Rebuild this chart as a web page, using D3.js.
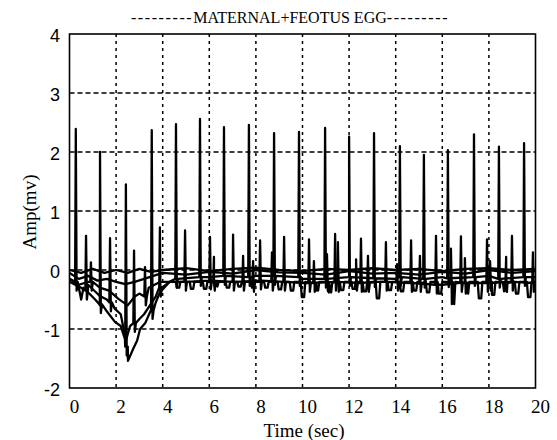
<!DOCTYPE html>
<html>
<head>
<meta charset="utf-8">
<script src="https://cdn.jsdelivr.net/npm/d3@7"></script>
<style>
  body { margin: 0; background: #fff; }
</style>
</head>
<body>
<svg id="chart" width="557" height="440"></svg>
<script>
// axis ticks
const xTicks = [0, 2, 4, 6, 8, 10, 12, 14, 16, 18, 20];
const yTicks = [-2, -1, 0, 1, 2, 3, 4];

// maternal R peaks: time (s), peak (mV), foot (mV)
const mTimes = [0.27, 1.31, 2.42, 3.53, 4.57, 5.60, 6.63, 7.70, 8.78, 9.85, 10.97, 12.0, 13.07, 14.18, 15.21, 16.24, 17.36, 18.43, 19.51];
const mPeak = [2.39, 2.0, 1.45, 2.37, 2.47, 2.56, 2.42, 2.46, 2.32, 2.34, 2.41, 2.26, 2.32, 2.1, 1.95, 2.03, 2.3, 2.09, 2.15];
const mFoot = [-0.2, -0.58, -1.3, -0.68, -0.15, -0.12, -0.1, -0.12, -0.1, -0.12, -0.15, -0.12, -0.14, -0.12, -0.15, -0.14, -0.12, -0.15, -0.12];

// foetal peaks
const fTimes = [0.71, 1.74, 2.77, 3.88, 4.96, 6.03, 7.02, 8.18, 9.21, 10.28, 11.4, 12.51, 13.58, 14.66, 15.73, 16.8, 17.92, 18.99, 19.89];
const fPeak = [0.58, 0.54, 0.33, 0.72, 0.67, 0.56, 0.6, 0.5, 0.56, 0.52, 0.61, 0.53, 0.47, 0.5, 0.58, 0.57, 0.52, 0.58, 0.3];
const fFoot = [-0.35, -0.55, -0.9, -0.3, -0.2, -0.18, -0.2, -0.18, -0.2, -0.22, -0.2, -0.22, -0.2, -0.22, -0.25, -0.22, -0.22, -0.2, -0.22];

// smaller secondary spikes
const sTimes = [0.92, 3.24, 6.2, 7.45, 7.88, 8.69, 10.49, 11.05, 11.52, 12.3, 12.81, 14.06, 15.04, 16.37, 16.97, 18.05, 18.74];
const sPeak = [0.13, 0.05, 0.22, 0.24, 0.15, 0.3, 0.15, 0.27, 0.47, 0.18, 0.24, 0.1, 0.24, 0.36, 0.2, 0.15, 0.22];
const sFoot = [-0.2, -0.45, -0.2, -0.2, -0.22, -0.2, -0.22, -0.2, -0.22, -0.2, -0.22, -0.2, -0.22, -0.2, -0.22, -0.2, -0.22];

// U shaped dips in the lower band
const dTimes = [4.66, 5.26, 5.82, 6.3, 6.8, 7.3, 7.88, 8.45, 9.03, 9.55, 10.02, 10.62, 11.18, 11.7, 12.2, 12.68, 13.24, 13.75, 14.27, 14.83, 15.39, 15.9, 16.46, 17.06, 17.62, 18.18, 18.7, 19.21, 19.73];
const dDepth = [-0.3, -0.32, -0.32, -0.28, -0.3, -0.28, -0.3, -0.3, -0.33, -0.35, -0.46, -0.35, -0.38, -0.34, -0.32, -0.36, -0.48, -0.34, -0.36, -0.35, -0.38, -0.4, -0.58, -0.4, -0.48, -0.42, -0.36, -0.4, -0.46];
const uBase = -0.2;

// baseline knots of the channels
const t1Time = [0, 0.5, 0.6, 0.9, 1.1, 1.3, 1.6, 1.95, 2.2, 2.38, 2.51, 2.73, 2.9, 3.03, 3.25, 3.45, 3.7, 3.88, 4.3, 6, 8, 10, 12, 14, 16, 18, 20];
const t1Val = [-0.15, -0.5, -0.3, -0.42, -0.5, -0.6, -0.7, -0.88, -0.95, -1.17, -1.54, -1.34, -1.2, -1.0, -0.9, -0.72, -0.55, -0.38, -0.2, -0.12, -0.1, -0.15, -0.12, -0.15, -0.12, -0.1, -0.12];
const t2Time = [0, 0.5, 0.8, 1.3, 1.6, 1.95, 2.2, 2.42, 2.6, 2.8, 3.0, 3.2, 3.45, 3.7, 3.9, 4.3, 7, 10, 13, 16, 20];
const t2Val = [-0.2, -0.3, -0.25, -0.44, -0.5, -0.66, -0.75, -1.2, -0.95, -0.9, -0.83, -0.75, -0.6, -0.45, -0.3, -0.2, -0.2, -0.22, -0.2, -0.25, -0.22];
const t3Time = [0, 0.4, 0.8, 1.3, 1.7, 2.1, 2.5, 2.8, 3.0, 3.4, 3.9, 20];
const t3Val = [-0.15, -0.25, -0.2, -0.3, -0.35, -0.49, -0.6, -0.45, -0.4, -0.3, -0.2, -0.2];
const t4Time = [0, 0.4, 0.8, 1.2, 1.6, 2.0, 2.4, 2.8, 3.2, 3.6, 4, 5, 6, 7, 8, 9, 10, 11, 12, 13, 14, 15, 16, 17, 18, 19, 20];
const t4Val = [-0.05, -0.15, -0.1, -0.18, -0.15, -0.2, -0.24, -0.2, -0.15, -0.1, -0.05, -0.08, -0.03, -0.06, 0, -0.04, -0.05, -0.08, -0.02, -0.06, -0.05, -0.08, -0.03, -0.06, 0, -0.05, -0.02];
const t5Time = [0, 0.5, 1.0, 1.5, 2.0, 2.5, 3.0, 3.5, 4, 5, 6, 7, 8, 9, 10, 11, 12, 13, 14, 15, 16, 17, 18, 19, 20];
const t5Val = [0, -0.05, 0.02, -0.05, 0, -0.05, 0.02, -0.03, 0, 0.03, -0.02, 0.02, 0.04, 0, -0.02, 0.02, 0, 0.03, 0, 0.02, -0.02, 0.02, 0.03, 0, 0.02];

const svg = d3.select('#chart');
const x = d3.scaleLinear().domain([0, 20]).range([69.5, 535.5]);
const y = d3.scaleLinear().domain([-2, 4]).range([388, 34]);

// grid
svg.append('g')
  .selectAll('line')
  .data(xTicks.slice(1, -1))
  .enter()
  .append('line')
  .attr('x1', d => x(d)).attr('x2', d => x(d))
  .attr('y1', y(4)).attr('y2', y(-2))
  .attr('stroke', '#000').attr('stroke-width', 1.5)
  .attr('stroke-dasharray', '3,4');

svg.append('g')
  .selectAll('line')
  .data(yTicks.slice(1, -1))
  .enter()
  .append('line')
  .attr('x1', x(0)).attr('x2', x(20))
  .attr('y1', d => y(d)).attr('y2', d => y(d))
  .attr('stroke', '#000').attr('stroke-width', 1.5)
  .attr('stroke-dasharray', '5,3');

// build the channel point lists
function knots(ts, vs) {
  return ts.map((t, i) => [t, vs[i]]);
}
function spikes(ts, peaks, feet) {
  const pts = [];
  ts.forEach((t, i) => {
    pts.push([t - 0.03, feet[i]], [t, peaks[i]], [t + 0.035, feet[i] - 0.15], [t + 0.08, feet[i]]);
  });
  return pts;
}
function dips(ts, depths) {
  const pts = [];
  ts.forEach((t, i) => {
    pts.push([t - 0.1, uBase], [t - 0.05, depths[i]], [t + 0.05, depths[i]], [t + 0.1, uBase]);
  });
  return pts;
}
const byTime = (a, b) => a[0] - b[0];

const channels = [
  knots(t1Time, t1Val).concat(spikes(mTimes, mPeak, mFoot)).sort(byTime),
  knots(t2Time, t2Val).concat(spikes(fTimes, fPeak, fFoot)).sort(byTime),
  knots(t3Time, t3Val).concat(spikes(sTimes, sPeak, sFoot), dips(dTimes, dDepth)).sort(byTime),
  knots(t4Time, t4Val),
  knots(t5Time, t5Val)
];

svg.append('clipPath').attr('id', 'plot')
  .append('rect')
  .attr('x', x(0)).attr('y', y(4))
  .attr('width', x(20) - x(0)).attr('height', y(-2) - y(4));

const line = d3.line().x(d => x(d[0])).y(d => y(d[1]));

svg.append('g')
  .attr('clip-path', 'url(#plot)')
  .selectAll('path')
  .data(channels)
  .enter()
  .append('path')
  .attr('d', line)
  .attr('fill', 'none')
  .attr('stroke', '#000')
  .attr('stroke-width', 2.3)
  .attr('stroke-linejoin', 'round');

// frame
svg.append('rect')
  .attr('x', x(0)).attr('y', y(4))
  .attr('width', x(20) - x(0)).attr('height', y(-2) - y(4))
  .attr('fill', 'none').attr('stroke', '#000').attr('stroke-width', 1.6);

// tick labels
svg.append('g')
  .selectAll('text')
  .data(xTicks)
  .enter()
  .append('text')
  .attr('x', d => x(d) + 5)
  .attr('y', 413)
  .attr('text-anchor', 'middle')
  .style('font-family', 'Liberation Serif, Times New Roman, serif')
  .style('font-size', '19px')
  .text(d => d);

svg.append('g')
  .selectAll('text')
  .data(yTicks)
  .enter()
  .append('text')
  .attr('x', 60)
  .attr('y', d => y(d) + 8)
  .attr('text-anchor', 'end')
  .style('font-family', 'Liberation Sans, Arial, sans-serif')
  .style('font-size', '18px')
  .text(d => d);

// titles
const title = svg.append('text')
  .attr('x', 290).attr('y', 23)
  .attr('text-anchor', 'middle')
  .style('font-family', 'Liberation Serif, Times New Roman, serif')
  .style('font-size', '16px');
title.append('tspan').style('letter-spacing', '1.6px').text('---------');
title.append('tspan').text('MATERNAL+FEOTUS EGG');
title.append('tspan').style('letter-spacing', '1.6px').text('---------');

svg.append('text')
  .attr('x', 304).attr('y', 437)
  .attr('text-anchor', 'middle')
  .style('font-family', 'Liberation Serif, Times New Roman, serif')
  .style('font-size', '19px')
  .text('Time (sec)');

svg.append('text')
  .attr('transform', 'translate(36,212) rotate(-90)')
  .attr('text-anchor', 'middle')
  .style('font-family', 'Liberation Serif, Times New Roman, serif')
  .style('font-size', '19px')
  .text('Amp(mv)');
</script>
</body>
</html>
